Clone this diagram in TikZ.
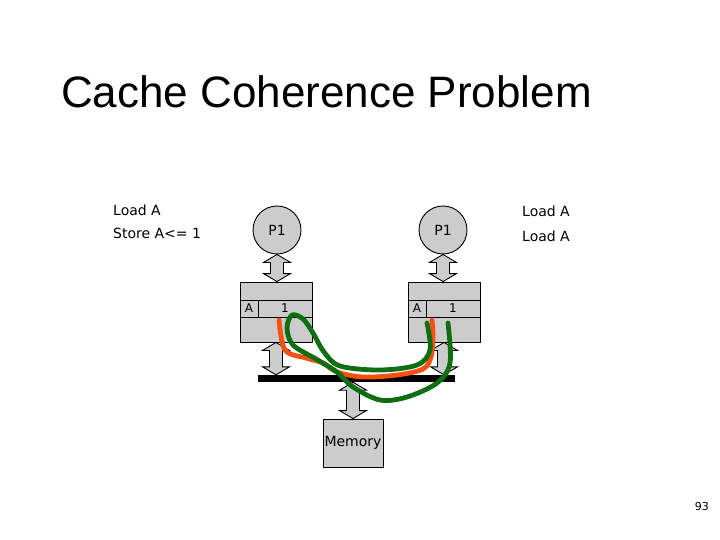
\documentclass[tikz,border=0pt]{standalone}
\usepackage{fontspec}
\setmainfont{DejaVu Sans}
\newfontfamily\titlefont{Liberation Sans}
\usetikzlibrary{calc,positioning}
\definecolor{ccgray}{RGB}{204,204,204}
\definecolor{ccred}{RGB}{250,80,15}
\definecolor{ccgreen}{RGB}{15,110,15}
\tikzset{
  every picture/.append style={line cap=round,line join=round},
  cc title/.style={font=\titlefont\fontsize{44}{48}\selectfont,inner sep=0pt},
  cc note/.style={font=\fontsize{14}{22.5}\selectfont,align=left,inner sep=0pt},
  cc proc/.style={circle,draw=black,line width=0.9pt,fill=ccgray,minimum size=48pt,inner sep=0pt,font=\fontsize{14}{16}\selectfont},
  cc cache/.style={rectangle,draw=black,line width=0.9pt,fill=ccgray,minimum width=72pt,minimum height=60pt,inner sep=0pt},
  cc cell/.style={rectangle,draw=black,line width=0.9pt,fill=ccgray,minimum height=17pt,inner sep=0pt,outer sep=0pt,font=\fontsize{12}{14}\selectfont},
  cc bus/.style={rectangle,fill=black,minimum width=197pt,minimum height=7pt,inner sep=0pt},
  cc mem/.style={rectangle,draw=black,line width=0.9pt,fill=ccgray,minimum width=60pt,minimum height=48pt,inner sep=0pt,font=\fontsize{14}{16}\selectfont},
  cc arrow/.style={draw=black,line width=0.9pt,fill=ccgray,line cap=butt,line join=miter},
  cc trace/.style={line width=4.8pt,smooth,tension=0.55}
}
% vertical double arrow from #1 (top) to #2 (bottom)
\newcommand{\ccarrow}[2]{%
  \path[cc arrow] let \p1=(#1), \p2=(#2) in
    (\x1,\y1) -- (\x1+13.5pt,\y1-8pt) -- (\x1+6.5pt,\y1-8pt) -- (\x1+6.5pt,\y2+8pt)
    -- (\x1+13.5pt,\y2+8pt) -- (\x1,\y2) -- (\x1-13.5pt,\y2+8pt) -- (\x1-6.5pt,\y2+8pt)
    -- (\x1-6.5pt,\y1-8pt) -- (\x1-13.5pt,\y1-8pt) -- cycle;}

\begin{document}
\begin{tikzpicture}[x=1pt,y=-1pt]
\useasboundingbox (0,0) rectangle (720,540);
\node[cc title,anchor=base west] (title) at (61,108) {Cache Coherence Problem};
\node[cc note,anchor=north west] (noteL) at (113,205) {Load A\\Store A<= 1};
\node[cc note,anchor=north west,font=\fontsize{14}{25}\selectfont] (noteR) at (522,206) {Load A\\Load A};

% processors and caches
\node[cc proc] (procL) at (277,230) {P1};
\node[cc proc] (procR) at (443,230) {P1};
\node[cc cache] (cacheL) at (276,312) {};
\node[cc cache] (cacheR) at (444,312) {};
\node[cc cell,minimum width=18pt,anchor=north west] (tagL) at (240,300) {A};
\node[cc cell,minimum width=54pt,right=0pt of tagL] (dataL) {1};
\node[cc cell,minimum width=18pt,anchor=north west] (tagR) at (408,300) {A};
\node[cc cell,minimum width=54pt,right=0pt of tagR] (dataR) {1};

% bus and memory
\node[cc bus] (bus) at (356.5,378.5) {};
\node[cc mem] (mem) at (353,443) {\raisebox{-2pt}{Memory}};

\ccarrow{procL.south}{cacheL.north}
\ccarrow{procR.south}{cacheR.north}
\ccarrow{cacheL.south}{cacheL.south |- bus.north}
\ccarrow{cacheR.south}{cacheR.south |- bus.north}
\ccarrow{mem.north |- bus.south}{mem.north}

% coherence traces
\draw[cc trace,ccred] plot coordinates {(279,320) (285,350) (306,358) (323,363) (337,372)
  (363,377) (397,375) (423,369) (431,357) (433,337) (432,320)};
\draw[cc trace,ccgreen] plot coordinates {(427,323) (430,350) (417,365) (380,370) (340,366)
  (324,352) (313,333) (303,319) (292,315) (287,328) (293,345) (316,359) (337,372)
  (353,387) (380,400) (407,397) (437,383) (450,363) (448,323)};

\node[font=\fontsize{11}{13}\selectfont,anchor=base east,inner sep=0pt] (pagenum) at (709,510) {93};
\end{tikzpicture}
\end{document}
